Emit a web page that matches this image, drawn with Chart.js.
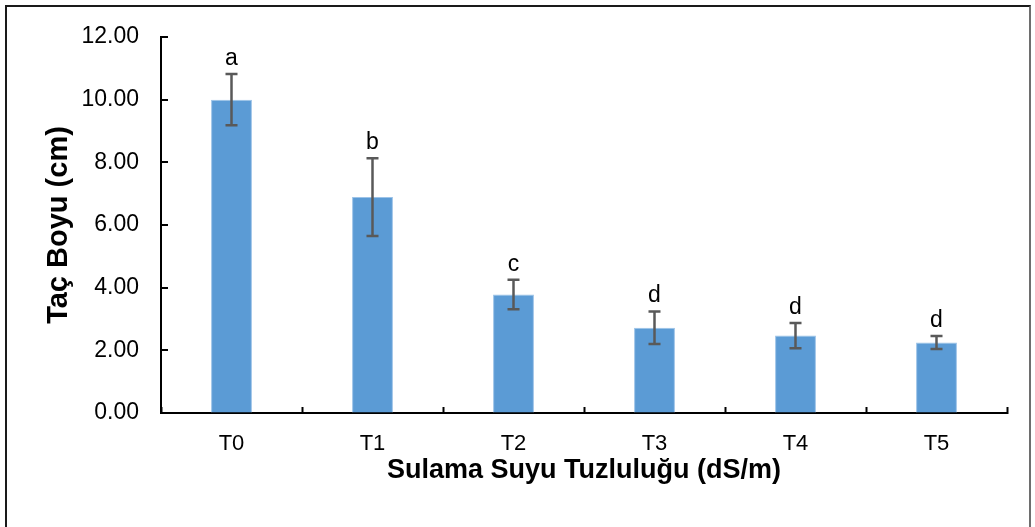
<!DOCTYPE html>
<html>
<head>
<meta charset="utf-8">
<script src="https://cdn.jsdelivr.net/npm/chart.js@4"></script>
<style>
  html, body { margin: 0; padding: 0; background: #fff; }
  #wrap { position: relative; width: 1035px; height: 527px; }
  #frame {
    position: absolute; left: 5px; top: 5px; width: 1026px; height: 530px;
    border: 2px solid #1a1a1a; border-right-color: #6e6e6e; border-bottom: none;
    box-sizing: border-box; pointer-events: none;
  }
</style>
</head>
<body>
<div id="wrap">
  <canvas id="chart" width="1035" height="527"></canvas>
  <div id="frame"></div>
</div>
<script>
const categories = ["T0", "T1", "T2", "T3", "T4", "T5"];
const means = [10.0, 6.89, 3.78, 2.72, 2.47, 2.25];
const errors = [0.82, 1.24, 0.47, 0.52, 0.40, 0.21];
const letters = ["a", "b", "c", "d", "d", "d"];
const yTicks = [0, 2, 4, 6, 8, 10, 12];

// error bars + significance letters, and the small inside ticks on the y axis
const errorBarPlugin = {
  id: "errorBars",
  afterDatasetsDraw(chart) {
    const { ctx, scales: { x, y } } = chart;
    ctx.save();
    ctx.strokeStyle = "#595959";
    ctx.lineWidth = 2.5;
    means.forEach((m, i) => {
      const cx = x.getPixelForValue(i);
      const top = y.getPixelForValue(m + errors[i]);
      const bot = y.getPixelForValue(m - errors[i]);
      ctx.beginPath();
      ctx.moveTo(cx, top); ctx.lineTo(cx, bot);
      ctx.moveTo(cx - 6, top); ctx.lineTo(cx + 6, top);
      ctx.moveTo(cx - 6, bot); ctx.lineTo(cx + 6, bot);
      ctx.stroke();
      ctx.fillStyle = "#000";
      ctx.font = "23px 'Liberation Sans', Arial, sans-serif";
      ctx.textAlign = "center";
      ctx.textBaseline = "alphabetic";
      ctx.fillText(letters[i], cx, top - 9);
    });

    ctx.strokeStyle = "#000";
    ctx.lineWidth = 2;
    yTicks.forEach(v => {
      const py = Math.round(y.getPixelForValue(v));
      ctx.beginPath();
      ctx.moveTo(y.right, py);
      ctx.lineTo(y.right + 7, py);
      ctx.stroke();
    });
    ctx.restore();
  }
};

new Chart(document.getElementById("chart"), {
  type: "bar",
  data: {
    labels: categories,
    datasets: [{
      data: means,
      backgroundColor: "#5B9BD5",
      borderColor: "#9CC3E8",
      borderWidth: 1,
      barPercentage: 0.29,
      categoryPercentage: 1
    }]
  },
  options: {
    responsive: false,
    animation: false,
    layout: { padding: { left: 0, right: 28, top: 37, bottom: 0 } },
    plugins: { legend: { display: false }, tooltip: { enabled: false } },
    scales: {
      x: {
        afterFit(scale) { scale.height = 114; },
        grid: {
          offset: true,
          drawOnChartArea: false,
          drawTicks: true,
          tickLength: -6,
          tickWidth: 2,
          tickColor: "#000"
        },
        border: { display: true, color: "#000", width: 2 },
        ticks: {
          color: "#000",
          padding: 24,
          font: { family: "'Liberation Sans', Arial, sans-serif", size: 22 }
        },
        title: {
          display: true,
          text: "Sulama Suyu Tuzluluğu (dS/m)",
          color: "#000",
          font: { family: "'Liberation Sans', Arial, sans-serif", size: 27, weight: "bold" },
          padding: { top: 0, bottom: 40 }
        }
      },
      y: {
        min: 0,
        max: 12,
        afterFit(scale) { scale.width = 161; },
        afterBuildTicks(scale) { scale.ticks = yTicks.map(v => ({ value: v })); },
        grid: {
          drawOnChartArea: false,
          drawTicks: false
        },
        border: { display: true, color: "#000", width: 2 },
        ticks: {
          color: "#000",
          padding: 22,
          callback: v => Number(v).toFixed(2),
          font: { family: "'Liberation Sans', Arial, sans-serif", size: 23 }
        },
        title: {
          display: true,
          text: "Taç Boyu (cm)",
          color: "#000",
          font: { family: "'Liberation Sans', Arial, sans-serif", size: 29, weight: "bold" },
          padding: { top: 42, bottom: 0 }
        }
      }
    }
  },
  plugins: [errorBarPlugin]
});
</script>
</body>
</html>
